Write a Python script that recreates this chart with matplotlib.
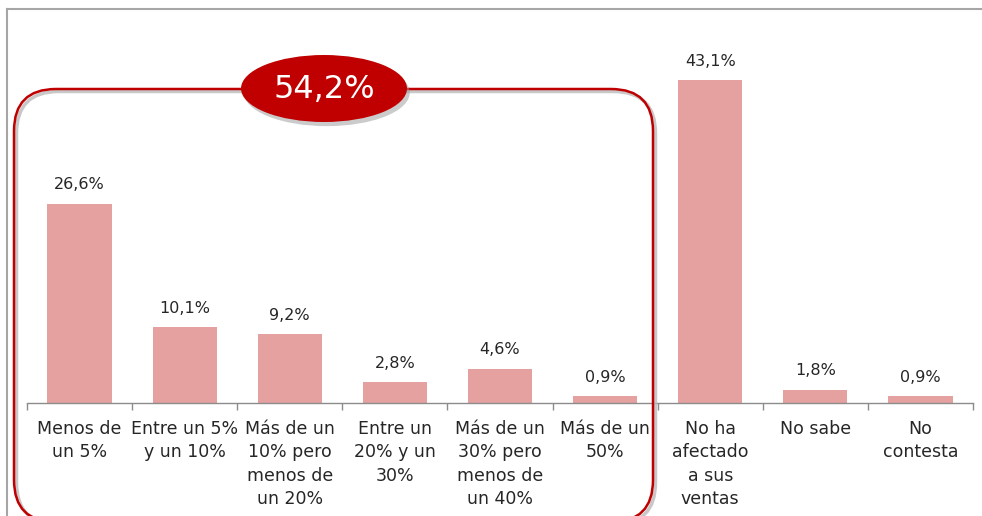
import matplotlib.pyplot as plt
import matplotlib.patheffects as pe
from matplotlib.patches import FancyBboxPatch, Ellipse
from matplotlib.lines import Line2D
import numpy as np

categories = ["Menos de\nun 5%", "Entre un 5%\ny un 10%", "Más de un\n10% pero\nmenos de\nun 20%",
              "Entre un\n20% y un\n30%", "Más de un\n30% pero\nmenos de\nun 40%", "Más de un\n50%",
              "No ha\nafectado\na sus\nventas", "No sabe", "No\ncontesta"]
values = [26.6, 10.1, 9.2, 2.8, 4.6, 0.9, 43.1, 1.8, 0.9]
value_labels = ["26,6%", "10,1%", "9,2%", "2,8%", "4,6%", "0,9%", "43,1%", "1,8%", "0,9%"]
group_label = "54,2%"

bar_color = "#E5A19F"
red = "#C00000"
gray = "#8C8C8C"
text_color = "#262626"
plt.rcParams['font.family'] = ['DejaVu Sans']

W, H = 982, 516
fig = plt.figure(figsize=(W / 100, H / 100), dpi=100)
ax = fig.add_axes([27 / W, (H - 403) / H, (973 - 27) / W, (403 - 28) / H])

x = np.arange(len(categories))
ax.bar(x, values, width=0.61, color=bar_color, zorder=2)
for xi, v, lab in zip(x, values, value_labels):
    ax.annotate(lab, (xi, v), xytext=(0, 8), textcoords="offset points",
                ha="center", va="bottom", fontsize=11.5, color=text_color)

ax.set_xlim(-0.5, len(categories) - 0.5)
ax.set_ylim(0, 50)
ax.set_xticks(x)
ax.set_xticklabels(categories, fontsize=12.5, color=text_color, linespacing=1.4)
ax.set_xticks(np.arange(-0.5, len(categories), 1), minor=True)
ax.tick_params(axis="x", which="major", length=0, pad=12)
ax.tick_params(axis="x", which="minor", length=5, color=gray, width=1)
ax.set_yticks([])
for s in ["top", "right", "left"]:
    ax.spines[s].set_visible(False)
ax.spines["bottom"].set_color(gray)
ax.spines["bottom"].set_linewidth(1)

# outer frame (top and left edges of the chart area)
px = fig.dpi_scale_trans
fig.add_artist(Line2D([0.07, 9.82], [(H - 9) / 100] * 2, transform=px, color="#A6A6A6", lw=1.5))
fig.add_artist(Line2D([0.07, 0.07], [0, (H - 9) / 100], transform=px, color="#A6A6A6", lw=1.5))

# rounded box around the first six categories, with a soft offset shadow
bx, by, bw, bh = 0.14, (H - 522) / 100, 6.53 - 0.14, (522 - 89) / 100
for dx, dy, col, lw, z in [(0.025, -0.025, "#BBBBBB", 2.5, 4), (0, 0, red, 1.8, 5)]:
    fig.add_artist(FancyBboxPatch((bx + dx, by + dy), bw, bh,
                                  boxstyle="round,pad=0,rounding_size=0.42", transform=px,
                                  fill=False, edgecolor=col, lw=lw, alpha=0.8 if z == 4 else 1,
                                  clip_on=False, zorder=z))

ell = Ellipse((3.24, (H - 88.5) / 100), 1.66, 0.67, transform=px,
              facecolor=red, edgecolor="none", zorder=6)
ell.set_path_effects([pe.SimplePatchShadow(offset=(2, -3), shadow_rgbFace="#999999", alpha=0.5),
                      pe.Normal()])
fig.add_artist(ell)
fig.text(3.24, (H - 90) / 100, group_label, transform=px, ha="center", va="center",
         fontsize=23, color="white", zorder=7)

fig.savefig("out.png", dpi=100)
